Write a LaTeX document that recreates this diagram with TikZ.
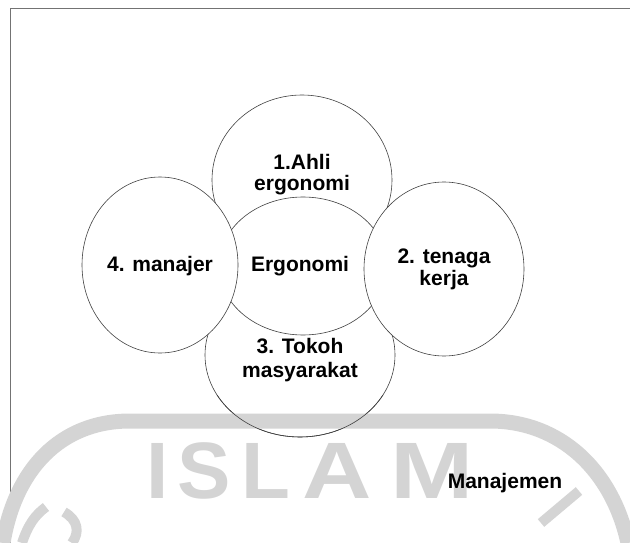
\documentclass[tikz,border=0pt]{standalone}
\usepackage{fontspec}
\setmainfont{Liberation Sans}
\usetikzlibrary{shapes.geometric}
\begin{document}
\begin{tikzpicture}[x=1pt,y=-1pt,
  bubble/.style={ellipse, draw=black!75, line width=0.6pt, fill=white, inner sep=0pt},
  lbl/.style={font=\fontsize{21}{25}\selectfont\bfseries, anchor=base, inner sep=0pt},
  wm/.style={text=black!17, font=\fontsize{80}{80}\selectfont\bfseries, anchor=base, inner sep=0pt},
  wmline/.style={draw=black!17, line width=15pt},
  wmstroke/.style={draw=black!17, line width=10pt},
  frameline/.style={draw=black!55, line width=0.6pt}
]
\useasboundingbox (0,0) rectangle (630,543);
% frame
\draw[frameline] (10,543) -- (10,8) -- (630,8);
% circles (back to front)
\node[bubble, minimum width=180pt, minimum height=170pt] (top) at (302,180) {};
\node[bubble, minimum width=190pt, minimum height=164pt] (bot) at (300,355) {};
\node[bubble, minimum width=168pt, minimum height=138pt] (mid) at (303,266) {};
\node[bubble, minimum width=156pt, minimum height=176pt] (left) at (160,265) {};
\node[bubble, minimum width=160pt, minimum height=174pt] (right) at (444,269) {};
% watermark
\draw[wmline] (3,543) .. controls (15,470) and (60,421) .. (130,421) -- (490,421)
  .. controls (560,421) and (612,470) .. (628,543);
\draw[wmstroke] (22,543) .. controls (28,525) and (35,515) .. (46,507);
\draw[wmstroke] (64,512) .. controls (78,520) and (80,532) .. (72,543);
\draw[wmstroke] (541,523) -- (579,491);
\node[wm] (wI) at (158,498) {I};
\node[wm] (wS) at (204,498) {S};
\node[wm] (wL) at (266,498) {L};
\node[wm, xscale=1.2] (wA) at (337,498) {A};
\node[wm, xscale=1.25] (wM) at (432,498) {M};
% redraw lower outline of bottom circle over watermark
\begin{scope}
\clip (0,395) rectangle (630,543);
\draw[draw=black!75, line width=0.6pt] (bot.center) ellipse [x radius=95pt, y radius=82pt];
\end{scope}
% labels
\node[lbl] (t1a) at (302,169) {1.Ahli};
\node[lbl] (t1b) at (302,190) {ergonomi};
\node[lbl] (tc) at (300,271) {Ergonomi};
\node[lbl] (t4) at (160,271) {4. manajer};
\node[lbl] (t2a) at (444,263) {2. tenaga};
\node[lbl] (t2b) at (444,285) {kerja};
\node[lbl] (t3a) at (300,353) {3. Tokoh};
\node[lbl] (t3b) at (300,377) {masyarakat};
\node[lbl] (man) at (505,488) {Manajemen};
\end{tikzpicture}
\end{document}
